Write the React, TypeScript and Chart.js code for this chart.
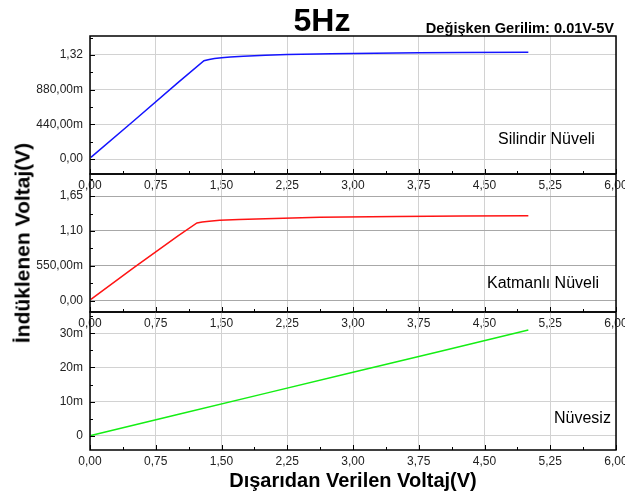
import React, { useEffect, useRef } from "react";
import { Chart, registerables } from "chart.js";

Chart.register(...registerables);

const FONT = "'Liberation Sans', Arial, sans-serif";

// shared x axis: 0..6 V in 0,75 V steps
const xMin = 0;
const xMax = 6;
const xStep = 0.75;

// Silindir Nüveli
const silindirX = [0.01, 0.5, 1.0, 1.3, 1.36, 1.42, 1.5, 1.6, 1.75, 2.0, 2.25, 2.75, 3.25, 3.75, 4.25, 5.0];
const silindirY = [0.02, 0.485, 0.965, 1.246, 1.262, 1.274, 1.285, 1.294, 1.303, 1.315, 1.324, 1.335, 1.342, 1.347, 1.351, 1.355];
const silindirTicks = [0, 0.44, 0.88, 1.32];
const silindirLabels = ["0,00", "440,00m", "880,00m", "1,32"];

// Katmanlı Nüveli
const katmanliX = [0.01, 0.5, 1.0, 1.22, 1.28, 1.36, 1.48, 1.7, 2.0, 2.62, 3.5, 4.25, 5.0];
const katmanliY = [0.02, 0.52, 1.02, 1.227, 1.24, 1.254, 1.268, 1.283, 1.295, 1.316, 1.33, 1.337, 1.342];
const katmanliTicks = [0, 0.55, 1.1, 1.65];
const katmanliLabels = ["0,00", "550,00m", "1,10", "1,65"];

// Nüvesiz
const nuvesizX = [0.01, 1.0, 2.0, 3.0, 4.0, 5.0];
const nuvesizY = [0.0, 0.0062, 0.0124, 0.0186, 0.0248, 0.031];
const nuvesizTicks = [0, 0.01, 0.02, 0.03];
const nuvesizLabels = ["0", "10m", "20m", "30m"];

type PanelProps = {
  top: number;
  bottom: number;
  yMin: number;
  yMax: number;
  xs: number[];
  ys: number[];
  yTicks: number[];
  yLabels: string[];
  color: string;
  hGrid: string;
};

const PAD_TOP = 4;
const X_AXIS_H = 24;
const W = 625;

const fmtX = (v: number) => v.toFixed(2).replace(".", ",");

const framePlugin = {
  id: "frame",
  afterDatasetsDraw(chart: any) {
    const { ctx, chartArea, scales } = chart;
    const { left, right, top, bottom } = chartArea;
    const x = scales.x;
    const y = scales.y;
    ctx.save();
    ctx.strokeStyle = "#000";
    ctx.lineWidth = 1.5;
    ctx.strokeRect(left, top, right - left, bottom - top);
    ctx.lineWidth = 1;
    ctx.beginPath();
    const half = xStep / 2;
    for (let i = 0; i * half <= xMax + 1e-9; i++) {
      const px = Math.round(x.getPixelForValue(i * half)) + 0.5;
      const len = i % 2 === 0 ? 5 : 3;
      ctx.moveTo(px, bottom);
      ctx.lineTo(px, bottom - len);
    }
    const ticks: number[] = chart.options.plugins.frame.yTicks;
    const step = ticks[1] - ticks[0];
    for (let k = -1; k < ticks.length * 2 + 2; k++) {
      const v = ticks[0] + (k * step) / 2;
      if (v < y.min || v > y.max) continue;
      const py = Math.round(y.getPixelForValue(v)) + 0.5;
      const len = k % 2 === 0 ? 5 : 3;
      ctx.moveTo(left, py);
      ctx.lineTo(left + len, py);
    }
    ctx.stroke();
    ctx.restore();
  },
};

function Panel(p: PanelProps) {
  const ref = useRef<HTMLCanvasElement | null>(null);
  const h = p.bottom - p.top + PAD_TOP + X_AXIS_H;

  useEffect(() => {
    if (!ref.current) return;
    const chart = new Chart(ref.current, {
      type: "line",
      data: {
        datasets: [
          {
            data: p.xs.map((x, i) => ({ x, y: p.ys[i] })),
            borderColor: p.color,
            borderWidth: 1.5,
            pointRadius: 0,
            tension: 0,
            fill: false,
          },
        ],
      },
      options: {
        animation: false,
        responsive: false,
        maintainAspectRatio: false,
        layout: { padding: { left: 0, right: 9, top: PAD_TOP, bottom: 0 }, autoPadding: false },
        plugins: {
          legend: { display: false },
          tooltip: { enabled: false },
          frame: { yTicks: p.yTicks },
        } as any,
        scales: {
          x: {
            type: "linear",
            min: xMin,
            max: xMax,
            ticks: {
              stepSize: xStep,
              autoSkip: false,
              maxRotation: 0,
              padding: 4,
              color: "#222",
              font: { family: FONT, size: 12 },
              callback: (v: any) => fmtX(Number(v)),
            },
            grid: { color: "#d2d2d2", drawTicks: false, lineWidth: 1 },
            border: { display: false },
            afterFit: (s: any) => {
              s.height = X_AXIS_H;
              s.paddingLeft = 0;
              s.paddingRight = 0;
            },
          },
          y: {
            type: "linear",
            min: p.yMin,
            max: p.yMax,
            afterBuildTicks: (s: any) => {
              s.ticks = p.yTicks.map((v) => ({ value: v }));
            },
            ticks: {
              padding: 7,
              color: "#222",
              font: { family: FONT, size: 12 },
              callback: (v: any) => {
                const i = p.yTicks.findIndex((t) => Math.abs(t - Number(v)) < 1e-9);
                return i >= 0 ? p.yLabels[i] : "";
              },
            },
            grid: { color: p.hGrid, drawTicks: false, lineWidth: 1 },
            border: { display: false },
            afterFit: (s: any) => {
              s.width = 90;
              s.paddingTop = 0;
              s.paddingBottom = 0;
            },
          },
        },
      } as any,
      plugins: [framePlugin],
    });
    return () => chart.destroy();
  }, []);

  return (
    <canvas
      ref={ref}
      width={W}
      height={h}
      style={{ position: "absolute", left: 0, top: p.top - PAD_TOP, width: W, height: h }}
    />
  );
}

const label = (left: number, top: number, size: number, bold = false): React.CSSProperties => ({
  position: "absolute",
  left,
  top,
  fontFamily: FONT,
  fontSize: size,
  fontWeight: bold ? "bold" : "normal",
  color: "#000",
  whiteSpace: "nowrap",
  lineHeight: 1,
});

export default function App() {
  return (
    <div
      style={{
        position: "fixed",
        left: 0,
        top: 0,
        width: 625,
        height: 502,
        background: "#fff",
        overflow: "hidden",
      }}
    >
      <Panel top={36} bottom={174} yMin={-0.19} yMax={1.56} xs={silindirX} ys={silindirY}
        yTicks={silindirTicks} yLabels={silindirLabels} color="#1414ff" hGrid="#d2d2d2" />
      <Panel top={174} bottom={312} yMin={-0.18} yMax={2.0} xs={katmanliX} ys={katmanliY}
        yTicks={katmanliTicks} yLabels={katmanliLabels} color="#ff1414" hGrid="#a8a8a8" />
      <Panel top={312} bottom={450} yMin={-0.00423} yMax={0.0363} xs={nuvesizX} ys={nuvesizY}
        yTicks={nuvesizTicks} yLabels={nuvesizLabels} color="#14ee14" hGrid="#d2d2d2" />

      <div style={{ ...label(0, 4, 32, true), width: 644, textAlign: "center" }}>5Hz</div>
      <div style={{ ...label(0, 21, 14.6, true), left: "auto", right: 11 }}>Değişken Gerilim: 0.01V-5V</div>

      <div style={label(498, 131, 16)}>Silindir Nüveli</div>
      <div style={label(487, 275, 16)}>Katmanlı Nüveli</div>
      <div style={label(554, 410, 16)}>Nüvesiz</div>

      <div style={{ ...label(90, 470, 20, true), width: 526, textAlign: "center" }}>
        Dışarıdan Verilen Voltaj(V)
      </div>
      <div
        style={{
          ...label(22, 243, 21, true),
          transform: "translate(-50%, -50%) rotate(-90deg)",
        }}
      >
        İndüklenen Voltaj(V)
      </div>
    </div>
  );
}
